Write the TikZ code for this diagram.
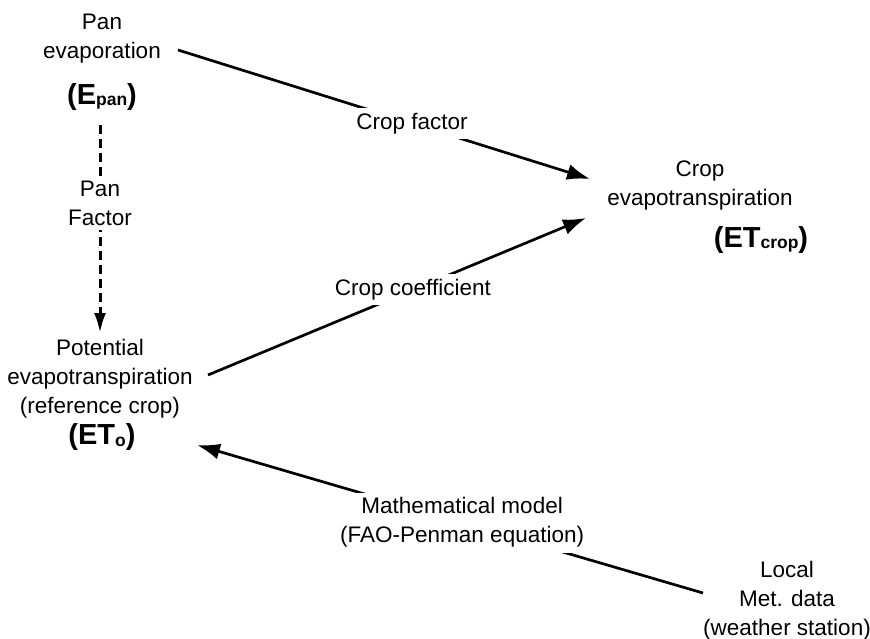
\documentclass[tikz,border=0pt]{standalone}
\usepackage{fontspec}
\setmainfont{Liberation Sans}
\usetikzlibrary{arrows.meta}
\begin{document}
\begin{tikzpicture}[x=1pt,y=-1pt,
  txt/.style={align=center, font=\fontsize{22.5}{29}\selectfont, inner sep=0pt},
  sym/.style={font=\fontsize{29}{32}\selectfont\bfseries, inner sep=0pt},
  lbl/.style={txt, fill=white, inner sep=5pt},
  flow/.style={line width=2.7pt, -{Latex[length=23pt,width=16pt]}},
  dflow/.style={line width=3pt, dash pattern=on 9pt off 5pt, -{Latex[length=20pt,width=12pt]}}]
\useasboundingbox (0,0) rectangle (870,639);

% quantities
\node[txt] (panevap) at (102,39) {Pan\\evaporation};
\node[sym] (epan) at (102,97) {(E\raisebox{-1.5pt}{\fontsize{17.5}{17.5}\selectfont pan})};
\node[txt] (pot) at (100,379) {Potential\\evapotranspiration\\(reference crop)};
\node[sym] (eto) at (102,437) {(ET\raisebox{-1.5pt}{\fontsize{17.5}{17.5}\selectfont o})};
\node[txt] (cropet) at (700,185) {Crop\\evapotranspiration};
\node[sym] (etcrop) at (761,240) {(ET\raisebox{-1.5pt}{\fontsize{17.5}{17.5}\selectfont crop})};
\node[txt] (local) at (787,601) {Local\\Met. data\\(weather station)};

% connector end points
\coordinate (pe-out) at (178,50);
\coordinate (ce-in1) at (590,179);
\coordinate (po-out) at (208,375);
\coordinate (ce-in2) at (586,218);
\coordinate (lo-out) at (703,593);
\coordinate (et-in) at (197,445);
\coordinate (ep-out) at (100,125);
\coordinate (po-in) at (100,333);

% connectors
\draw[flow] (pe-out) -- node[lbl, pos=0.568] (cf) {Crop factor} (ce-in1);
\draw[flow] (po-out) -- node[lbl, pos=0.542] (cc) {Crop coefficient} (ce-in2);
\draw[flow] (lo-out) -- node[lbl, pos=0.476] (mm) {Mathematical model\\(FAO-Penman equation)} (et-in);
\draw[dflow] (ep-out) -- node[lbl, pos=0.375] (pf) {Pan\\Factor} (po-in);
\end{tikzpicture}
\end{document}
